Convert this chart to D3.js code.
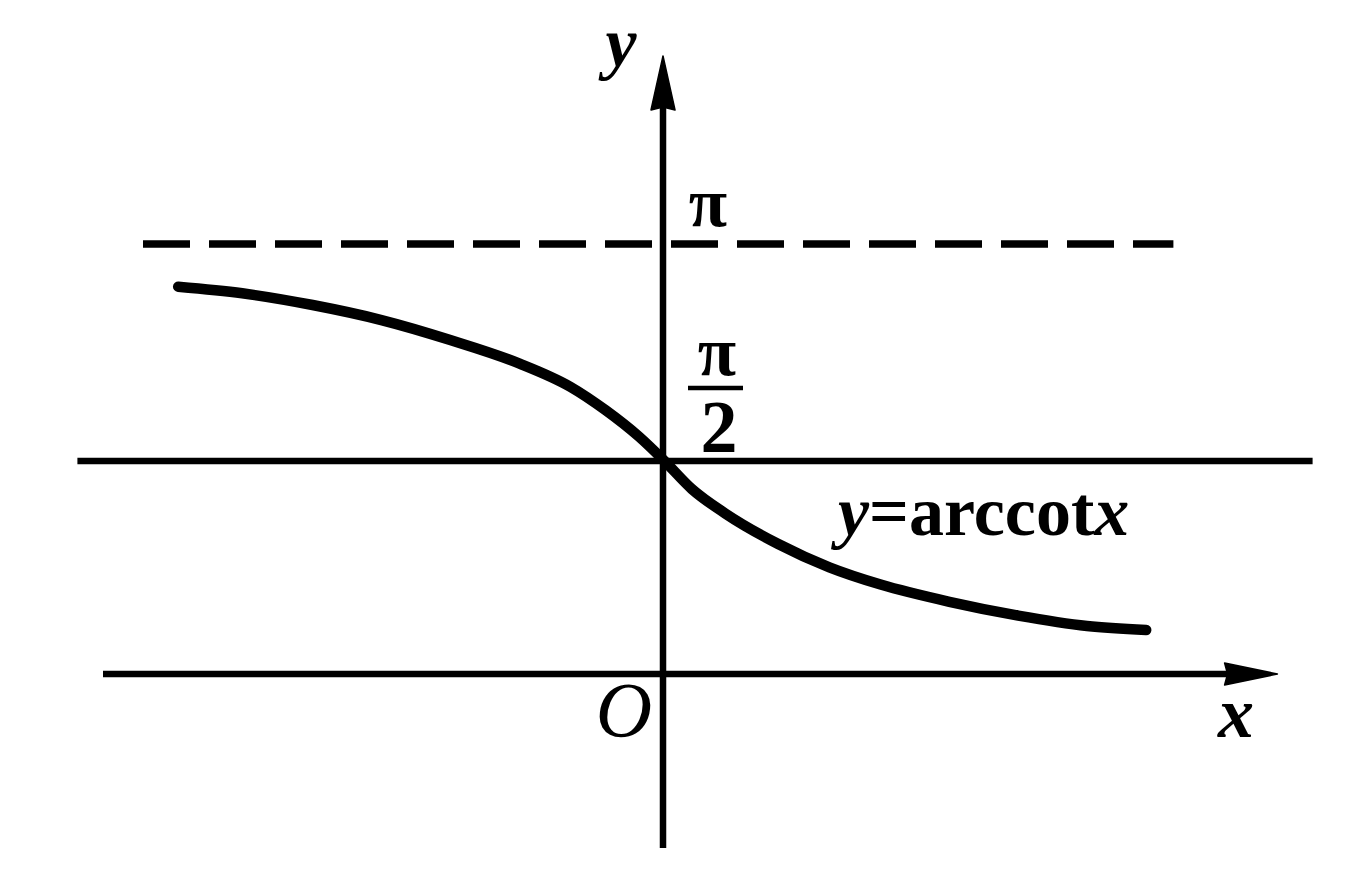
<!DOCTYPE html>
<html>
<head>
<meta charset="utf-8">
<script src="https://cdn.jsdelivr.net/npm/d3@7"></script>
<style>
  html, body { margin: 0; padding: 0; background: #fff; }
  svg { display: block; }
  text { font-family: "Liberation Serif", "Times New Roman", serif; fill: #000; }
</style>
</head>
<body>
<script>
// ---- data (x in units, y in radians) ----
const curveX = [-3.03, -2.63, -2.19, -1.76, -1.33, -0.90, -0.58, -0.36, -0.15, 0.00, 0.18, 0.39, 0.72, 1.04, 1.36, 1.79, 2.22, 2.65, 3.02];
const curveY = [2.836, 2.788, 2.702, 2.592, 2.446, 2.275, 2.104, 1.933, 1.738, 1.571, 1.355, 1.175, 0.952, 0.781, 0.655, 0.529, 0.428, 0.352, 0.322];
const asymptoteTop = Math.PI;      // dashed line y = π
const midLine = Math.PI / 2;       // solid line y = π/2
const tickLabels = ["π", "π", "2"];
const axisLabels = ["x", "y", "O"];
const curveLabel = ["y", "=", "arccot", "x"];

const W = 1349, H = 873;
const svg = d3.select("body").append("svg").attr("width", W).attr("height", H);

const x = d3.scaleLinear().domain([0, 1]).range([663, 823]);
const y = d3.scaleLinear().domain([0, Math.PI]).range([674, 245]);

// π/2 horizontal line
svg.append("line")
  .attr("x1", x(-3.66)).attr("x2", x(4.06))
  .attr("y1", y(midLine) + 1.5).attr("y2", y(midLine) + 1.5)
  .attr("stroke", "#000").attr("stroke-width", 6.5);

// dashed asymptote y = π
svg.append("line")
  .attr("x1", x(-3.25)).attr("x2", x(3.19))
  .attr("y1", y(asymptoteTop) - 1).attr("y2", y(asymptoteTop) - 1)
  .attr("stroke", "#000").attr("stroke-width", 7.5)
  .attr("stroke-dasharray", "47 19");

// x axis
const xTip = x(3.84), xBase = x(3.51);
svg.append("line")
  .attr("x1", x(-3.5)).attr("x2", xBase + 4)
  .attr("y1", y(0)).attr("y2", y(0))
  .attr("stroke", "#000").attr("stroke-width", 6.5);
svg.append("path")
  .attr("d", `M${xTip},${y(0)} L${xBase},${y(0) - 11} L${xBase + 3},${y(0)} L${xBase},${y(0) + 11} Z`)
  .attr("fill", "#000").attr("stroke", "#000").attr("stroke-width", 1.5).attr("stroke-linejoin", "round");

// y axis
const yTip = y(4.526), yBase = y(4.13);
svg.append("line")
  .attr("x1", x(0)).attr("x2", x(0))
  .attr("y1", y(-1.274)).attr("y2", yBase - 4)
  .attr("stroke", "#000").attr("stroke-width", 6.5);
svg.append("path")
  .attr("d", `M${x(0)},${yTip} L${x(0) - 12},${yBase} L${x(0)},${yBase - 3} L${x(0) + 12},${yBase} Z`)
  .attr("fill", "#000").attr("stroke", "#000").attr("stroke-width", 1.5).attr("stroke-linejoin", "round");

// curve y = arccot x
const pts = curveX.map((d, i) => [d, curveY[i]]);
svg.append("path")
  .datum(pts)
  .attr("d", d3.line().x(d => x(d[0])).y(d => y(d[1])).curve(d3.curveMonotoneX))
  .attr("fill", "none").attr("stroke", "#000").attr("stroke-width", 10.5)
  .attr("stroke-linecap", "round").attr("stroke-linejoin", "round");

// axis labels
svg.append("text").attr("x", 1236).attr("y", 737).attr("text-anchor", "middle")
  .attr("font-size", 72).attr("font-style", "italic").attr("font-weight", "bold").text(axisLabels[0]);
svg.append("text").attr("x", 621).attr("y", 66).attr("text-anchor", "middle")
  .attr("font-size", 70).attr("font-style", "italic").attr("font-weight", "bold").text(axisLabels[1]);
svg.append("text").attr("x", 624).attr("y", 736).attr("text-anchor", "middle")
  .attr("font-size", 78).attr("font-style", "italic").text(axisLabels[2]);

// π label
svg.append("text").attr("x", 708).attr("y", y(asymptoteTop) - 19).attr("text-anchor", "middle")
  .attr("font-size", 70).attr("font-weight", "bold").text(tickLabels[0]);

// π/2 fraction
svg.append("text").attr("x", 717).attr("y", 375).attr("text-anchor", "middle")
  .attr("font-size", 70).attr("font-weight", "bold").text(tickLabels[1]);
svg.append("line").attr("x1", 688).attr("x2", 743).attr("y1", 388).attr("y2", 388)
  .attr("stroke", "#000").attr("stroke-width", 4.5);
svg.append("text").attr("x", 719).attr("y", 452).attr("text-anchor", "middle")
  .attr("font-size", 74).attr("font-weight", "bold").text(tickLabels[2]);

// curve label
const lbl = svg.append("text").attr("x", 838).attr("y", 535).attr("font-size", 70);
lbl.append("tspan").attr("font-style", "italic").attr("font-weight", "bold").text(curveLabel[0]);
lbl.append("tspan").attr("font-weight", "bold").text(curveLabel[1]);
lbl.append("tspan").attr("font-weight", "bold").text(curveLabel[2]);
lbl.append("tspan").attr("font-style", "italic").attr("font-weight", "bold").text(curveLabel[3]);
</script>
</body>
</html>
